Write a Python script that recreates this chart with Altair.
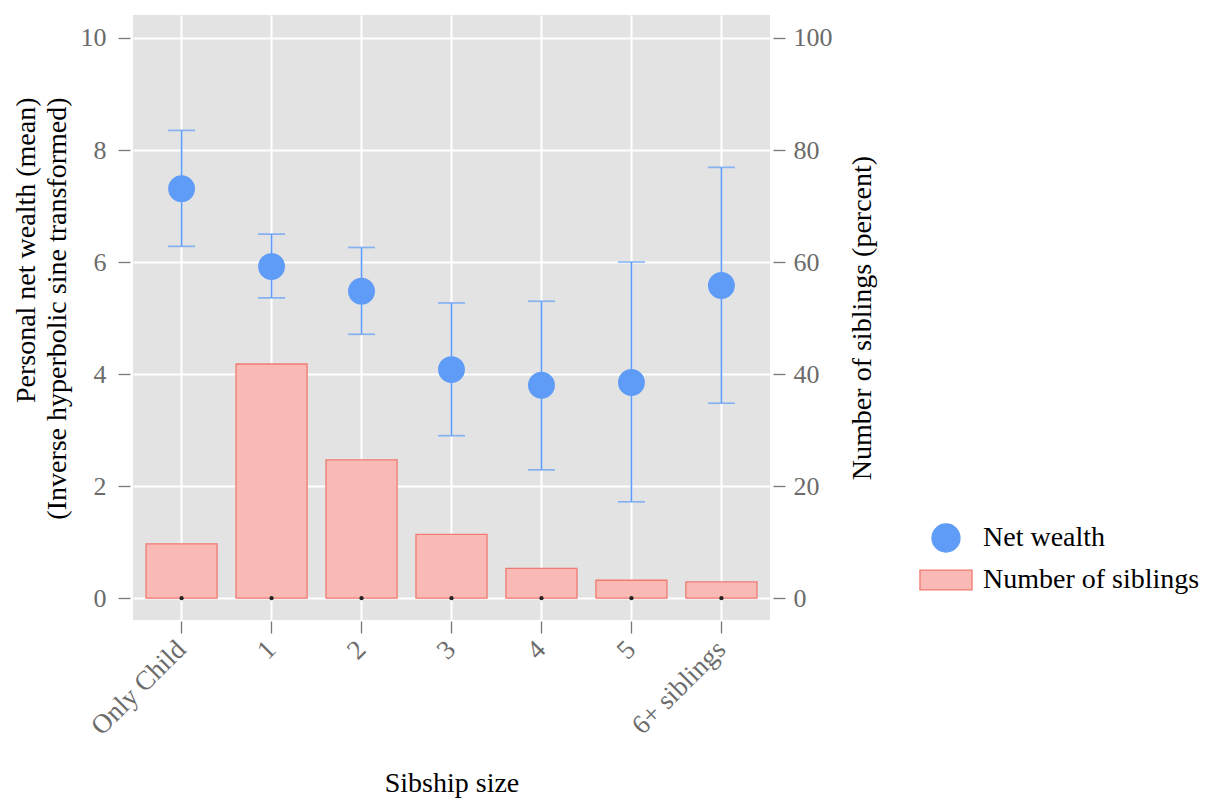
import altair as alt
import pandas as pd

categories = ["Only Child", "1", "2", "3", "4", "5", "6+ siblings"]
wealth_mean = [7.31, 5.92, 5.48, 4.08, 3.80, 3.85, 5.58]
wealth_lo = [6.28, 5.36, 4.71, 2.90, 2.29, 1.72, 3.48]
wealth_hi = [8.35, 6.50, 6.26, 5.27, 5.30, 6.00, 7.69]
sibling_pct = [9.7, 41.8, 24.7, 11.4, 5.3, 3.2, 2.9]
zero_marks = [0, 0, 0, 0, 0, 0, 0]

series_names = ["Net wealth", "Number of siblings"]

df = pd.DataFrame({
    "cat": categories,
    "mean": wealth_mean,
    "lo": wealth_lo,
    "hi": wealth_hi,
    "pct": sibling_pct,
    "zero": zero_marks,
})

FONT = "Liberation Serif"
BLUE = "#5f9cf7"
PINK = "#f9b9b4"
RED = "#ef7b72"
LABEL_GRAY = "#6b6b6b"
TICK_GRAY = "#777777"

xscale = alt.Scale(paddingInner=0.21, paddingOuter=0.145)
xaxis = alt.Axis(
    title="Sibship size", grid=True, gridColor="white", gridWidth=2,
    bandPosition=0.5, domain=False, ticks=True, tickColor=TICK_GRAY, tickSize=12,
    tickWidth=1.3, labelAngle=315, labelAlign="right", labelBaseline="middle",
    labelPadding=12, labelFont=FONT, labelFontSize=27, labelColor=LABEL_GRAY,
    titleFont=FONT, titleFontSize=28, titleFontWeight="normal", titleColor="black",
    titlePadding=30, offset=1,
)

def X():
    return alt.X("cat:N", sort=categories, scale=xscale, axis=xaxis)

lscale = alt.Scale(domain=[-0.39, 10.41], nice=False, zero=False)
laxis = alt.Axis(
    title=["Personal net wealth (mean)", "(Inverse hyperbolic sine transformed)"],
    values=[0, 2, 4, 6, 8, 10], grid=True, gridColor="white", gridWidth=2,
    domain=False, tickColor=TICK_GRAY, tickSize=12, tickWidth=1.3, offset=3,
    labelFont=FONT, labelFontSize=26, labelColor=LABEL_GRAY, labelPadding=12,
    titleFont=FONT, titleFontSize=28, titleFontWeight="normal", titleColor="black",
    titleAngle=270, titleAlign="right", titleBaseline="top", titleX=-118, titleY=82,
    titleLineHeight=31,
)
rscale = alt.Scale(domain=[-3.9, 104.1], nice=False, zero=False)
raxis = alt.Axis(
    title="Number of siblings (percent)", orient="right",
    values=[0, 20, 40, 60, 80, 100], grid=False, domain=False, offset=3,
    tickColor=TICK_GRAY, tickSize=12, tickWidth=1.3,
    labelFont=FONT, labelFontSize=26, labelColor=LABEL_GRAY, labelPadding=8,
    titleFont=FONT, titleFontSize=28, titleFontWeight="normal", titleColor="black",
    titleAngle=270, titleBaseline="top", titlePadding=16,
)

legend = alt.Legend(
    title=None, orient="none", legendX=798, legendY=508, padding=0,
    labelFont=FONT, labelFontSize=28, labelColor="black", labelOffset=22,
    symbolSize=784, symbolStrokeWidth=1.3, rowPadding=10, labelLimit=400,
)
fill = alt.Fill("series:N", scale=alt.Scale(domain=series_names, range=[BLUE, PINK]), legend=legend)
stroke = alt.Stroke("series:N", scale=alt.Scale(domain=series_names, range=[BLUE, RED]), legend=legend)
shape = alt.Shape("series:N", scale=alt.Scale(domain=series_names,
                  range=["circle", "M-1.86,-0.71H1.86V0.71H-1.86Z"]), legend=legend)

base = alt.Chart(df)

bars = base.mark_bar(strokeWidth=1.3).transform_calculate(
    series="'Number of siblings'"
).encode(
    x=X(),
    y=alt.Y("pct:Q", scale=rscale, axis=raxis),
    fill=fill, stroke=stroke,
)

def YL(field):
    return alt.Y(field, scale=lscale, axis=laxis)

rules = base.mark_rule(color=BLUE, strokeWidth=1.7).encode(
    x=X(), y=YL("lo:Q"), y2="hi:Q")
cap_lo = base.mark_tick(color=BLUE, size=27, thickness=1.7).encode(x=X(), y=YL("lo:Q"))
cap_hi = base.mark_tick(color=BLUE, size=27, thickness=1.7).encode(x=X(), y=YL("hi:Q"))
points = base.mark_point(filled=True, size=620, opacity=1).transform_calculate(
    series="'Net wealth'"
).encode(
    x=X(), y=YL("mean:Q"), fill=fill, stroke=stroke, shape=shape,
)
dots = base.mark_point(filled=True, size=18, color="#222222", opacity=1).encode(
    x=X(), y=YL("zero:Q"))

wealth = alt.layer(rules, cap_lo, cap_hi, points, dots)

chart = alt.layer(bars, wealth).resolve_scale(y="independent").properties(
    width=637, height=605,
    background="white",
    autosize=alt.AutoSizeParams(type="none"),
    padding={"left": 125, "top": 7, "right": 430, "bottom": 178},
).configure_view(fill="#e3e3e3", stroke=None)

chart.save("out.html", embed_options={"renderer": "svg", "actions": False})
